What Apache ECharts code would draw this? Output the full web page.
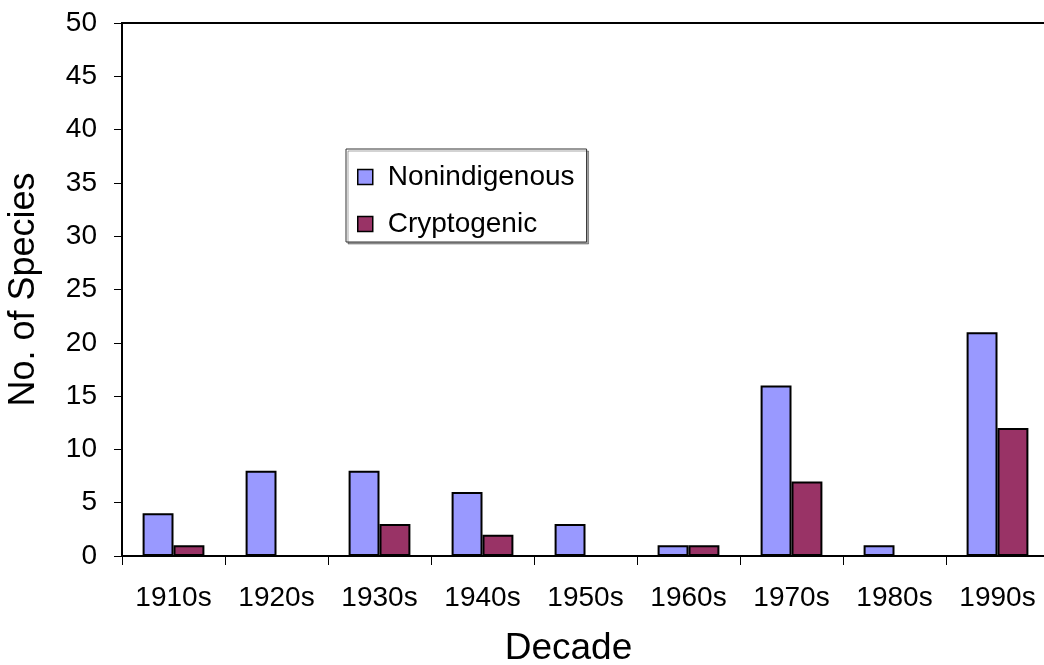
<!DOCTYPE html>
<html>
<head>
<meta charset="utf-8">
<script src="https://cdn.jsdelivr.net/npm/echarts@6/dist/echarts.min.js"></script>
<style>html,body{margin:0;padding:0;background:#fff;overflow:hidden;}#c{width:1044px;height:665px;}</style>
</head>
<body>
<div id="c"></div>
<script>
const categories = ['1910s','1920s','1930s','1940s','1950s','1960s','1970s','1980s','1990s'];
const nonindigenous = [4, 8, 8, 6, 3, 1, 16, 1, 21];
const cryptogenic = [1, 0, 3, 2, 0, 1, 7, 0, 12];
const seriesNames = ['Nonindigenous', 'Cryptogenic'];

const FONT = '"Liberation Sans", Arial, sans-serif';
const chart = echarts.init(document.getElementById('c'), null, { width: 1044, height: 665 });
chart.setOption({
  animation: false,
  backgroundColor: '#fff',
  textStyle: { fontFamily: FONT, color: '#000' },
  grid: {
    left: 122, top: 23, width: 927, height: 533,
    outerBoundsMode: 'none', containLabel: false,
    show: true, borderColor: '#000', borderWidth: 2, backgroundColor: 'transparent'
  },
  legend: {
    left: 346, top: 149,
    orient: 'vertical',
    itemWidth: 15, itemHeight: 15, itemGap: 19,
    padding: [14, 12, 4, 11],
    borderColor: '#333', borderWidth: 1,
    shadowColor: 'rgba(0,0,0,0.35)', shadowOffsetX: 2, shadowOffsetY: 2,
    backgroundColor: '#fff',
    icon: 'rect',
    itemStyle: { borderColor: '#000', borderWidth: 1.5 },
    textStyle: { fontFamily: FONT, fontSize: 28, color: '#000', lineHeight: 28, padding: [0, 0, 0, 10] },
    data: seriesNames
  },
  xAxis: {
    type: 'category',
    data: categories,
    boundaryGap: true,
    axisLine: { lineStyle: { color: '#000', width: 2 } },
    axisTick: { show: true, length: 9, lineStyle: { color: '#000', width: 1 } },
    axisLabel: { fontFamily: FONT, fontSize: 28, color: '#000', margin: 28 },
    name: 'Decade',
    nameLocation: 'middle',
    nameGap: 74,
    nameTextStyle: { fontFamily: FONT, fontSize: 37, color: '#000', padding: [0, 34, 0, 0] }
  },
  yAxis: {
    type: 'value',
    min: 0, max: 50, interval: 5,
    splitLine: { show: false },
    axisLine: { show: true, lineStyle: { color: '#000', width: 2 } },
    axisTick: { show: true, length: 8, lineStyle: { color: '#000', width: 1 } },
    axisLabel: { fontFamily: FONT, fontSize: 28, color: '#000', margin: 25 },
    name: 'No. of Species',
    nameLocation: 'middle',
    nameGap: 80,
    nameTextStyle: { fontFamily: FONT, fontSize: 36, color: '#000' }
  },
  series: [
    {
      name: seriesNames[0], type: 'bar', data: nonindigenous,
      barGap: '0%', barCategoryGap: '40%',
      itemStyle: { color: '#9999FF', borderColor: '#000', borderWidth: 2 }
    },
    {
      name: seriesNames[1], type: 'bar', data: cryptogenic,
      barGap: '0%', barCategoryGap: '40%',
      itemStyle: { color: '#993366', borderColor: '#000', borderWidth: 2 }
    }
  ]
});
</script>
</body>
</html>
